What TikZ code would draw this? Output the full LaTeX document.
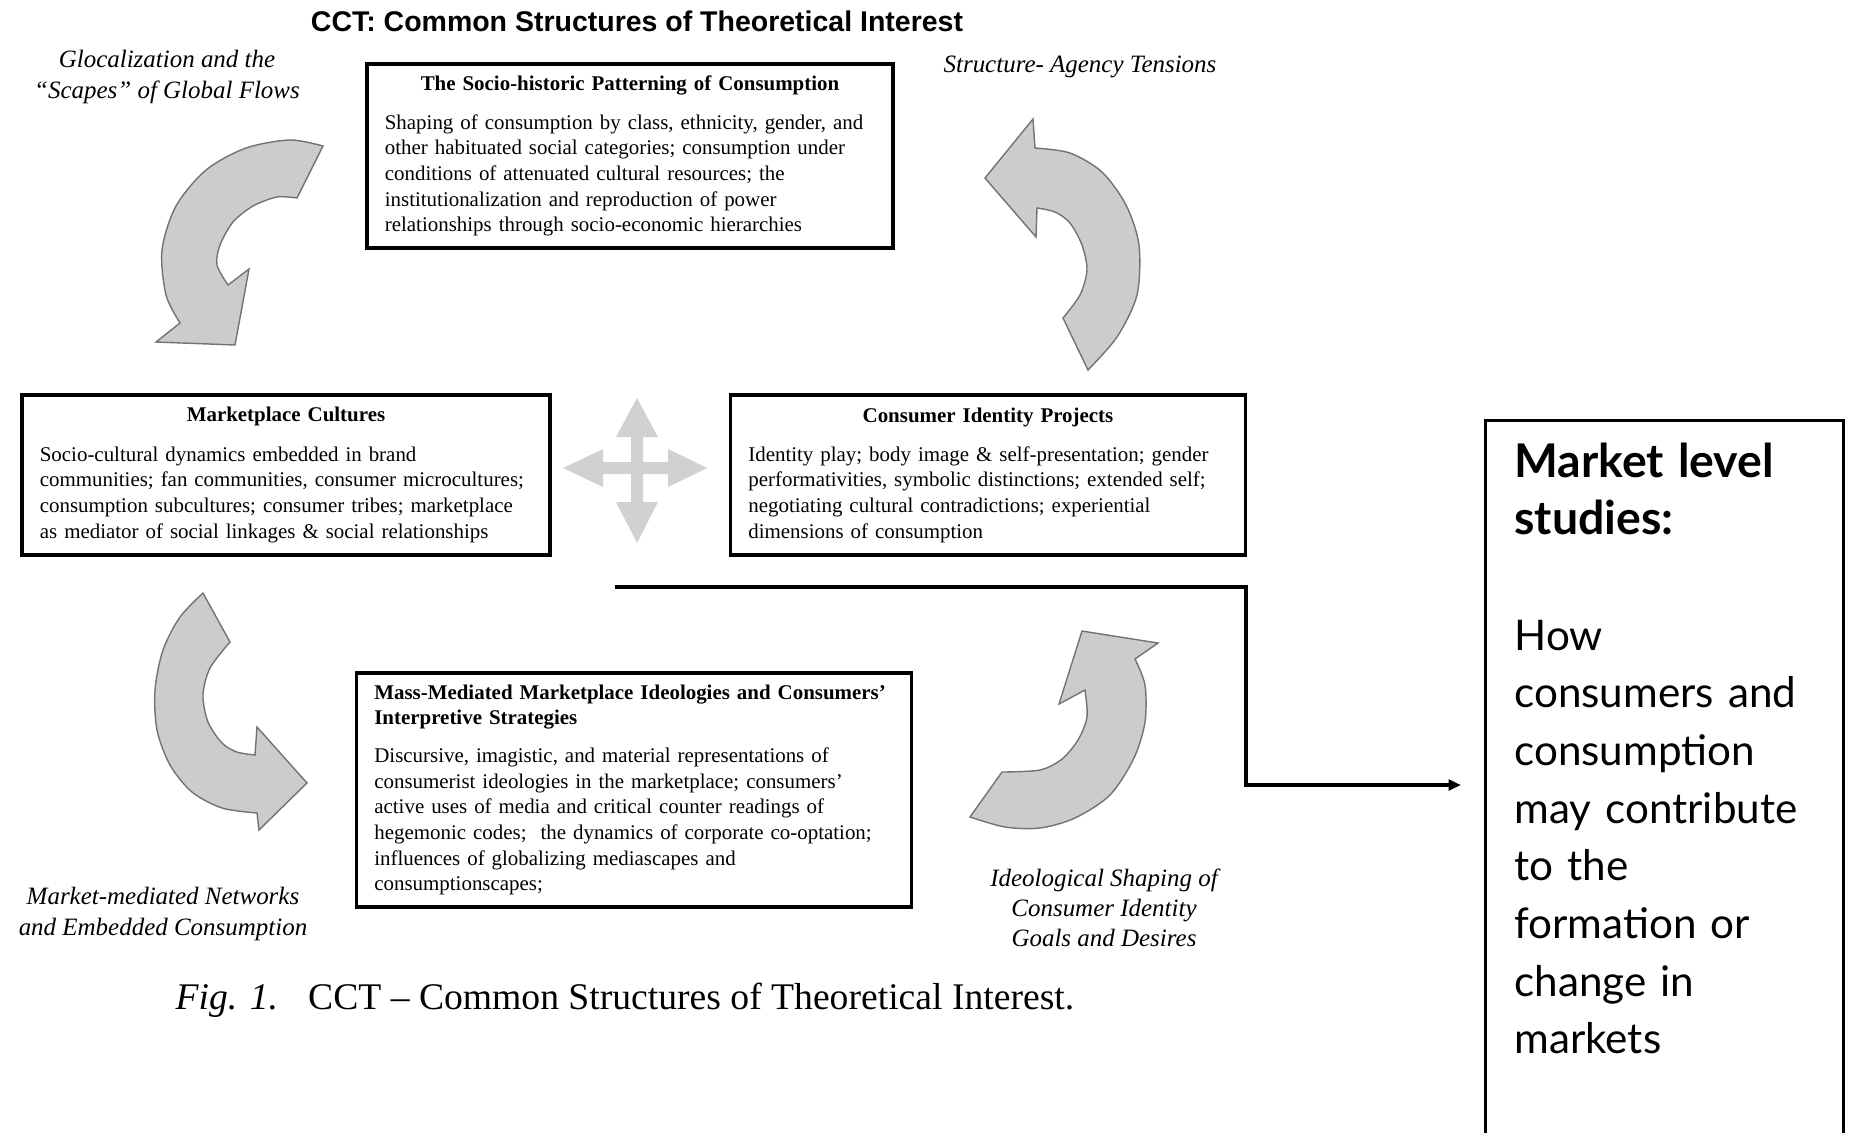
\documentclass[tikz,border=0pt]{standalone}
\usepackage{fontspec}
\setmainfont{Liberation Serif}
\newfontfamily\headfont{Liberation Sans}
\newfontfamily\slidefont{Lato}
\usetikzlibrary{arrows.meta}

\tikzset{
  cctbox/.style={draw, line width=1pt, inner xsep=4.5pt, inner ysep=2pt, align=left,
    font=\fontsize{5.95}{7.3}\selectfont},
  flowlbl/.style={align=center, font=\itshape\fontsize{7.1}{8.6}\selectfont},
  bendarrow/.style={fill=black!20, draw=black!55, line width=0.4pt},
}

\begin{document}
\begin{tikzpicture}[x=0.01cm, y=-0.01cm]
  \useasboundingbox (0,0) rectangle (1850,1132);
  \clip (0,0) rectangle (1850,1132);

  \node[font=\headfont\bfseries\fontsize{8.1}{9}\selectfont] (title) at (637,21)
    {CCT: Common Structures of Theoretical Interest};

  \begin{scope}[every node/.style={flowlbl}]
    \node (glocal)  at (167,77)   {Glocalization and the\\“Scapes” of Global Flows};
    \node (tension) at (1080,67)  {Structure- Agency Tensions};
    \node (network) at (163,914)  {Market-mediated Networks\\and Embedded Consumption};
    \node (ideol)   at (1104,908) {Ideological Shaping of\\Consumer Identity\\Goals and Desires};
  \end{scope}

  \begin{scope}[every node/.style={cctbox}]
    \node[minimum width=5.26cm, minimum height=1.84cm, text width=4.9cm] (socio) at (630,156)
      {\centerline{\bfseries The Socio-historic Patterning of Consumption}\vspace{3.8pt}
       Shaping of consumption by class, ethnicity, gender, and\\
       other habituated social categories; consumption under\\
       conditions of attenuated cultural resources; the\\
       institutionalization and reproduction of power\\
       relationships through socio-economic hierarchies};
    \node[minimum width=5.28cm, minimum height=1.6cm, text width=4.92cm] (culture) at (286,475)
      {\centerline{\bfseries Marketplace Cultures}\vspace{3.8pt}
       Socio-cultural dynamics embedded in brand\\
       communities; fan communities, consumer microcultures;\\
       consumption subcultures; consumer tribes; marketplace\\
       as mediator of social linkages \& social relationships};
    \node[minimum width=5.15cm, minimum height=1.6cm, text width=4.79cm] (identity) at (988,475)
      {\centerline{\bfseries Consumer Identity Projects}\vspace{3.8pt}
       Identity play; body image \& self-presentation; gender\\
       performativities, symbolic distinctions; extended self;\\
       negotiating cultural contradictions; experiential\\
       dimensions of consumption};
    \node[minimum width=5.55cm, minimum height=2.34cm, text width=5.19cm] (ideology) at (634,790)
      {\textbf{Mass-Mediated Marketplace Ideologies and Consumers'}\\
       \textbf{Interpretive Strategies}\\[3.4pt]
       Discursive, imagistic, and material representations of\\
       consumerist ideologies in the marketplace; consumers'\\
       active uses of media and critical counter readings of\\
       hegemonic codes;\ \ the dynamics of corporate co-optation;\\
       influences of globalizing mediascapes and\\
       consumptionscapes;};
  \end{scope}

  \node[draw, line width=0.8pt, anchor=north west, inner xsep=7.4pt, inner ysep=6.3pt,
    minimum width=3.58cm, text width=3cm, align=left, text depth=7.4cm,
    font=\slidefont\fontsize{12}{16.4}\selectfont] (market) at (1484,419)
    {{\fontsize{13.2}{16.4}\selectfont\bfseries Market level\\studies:}\\[16.4pt]How\\consumers and\\consumption\\
     may contribute\\to the\\formation or\\change in\\markets};

  \node[anchor=west, inner sep=0pt, font=\fontsize{10.7}{13}\selectfont] (caption) at (175,1000)
    {\textit{Fig. 1.}\hspace{0.8em}CCT – Common Structures of Theoretical Interest.};

  \filldraw[bendarrow] (323,146) -- (297,198)
    -- plot[smooth] coordinates {(297,198) (277,197) (253,206) (233,222) (220,245) (217,265) (228,285)}
    -- (249,269) -- (235,345) -- (156,342) -- (180,323)
    -- plot[smooth] coordinates {(180,323) (166,295) (162,250) (176,206) (206,170) (246,148) (290,140) (323,146)}
    -- cycle;
  \filldraw[bendarrow] (985,178) -- (1033,119) -- (1035,148)
    -- plot[smooth] coordinates {(1035,148) (1070,153) (1102,172) (1126,205) (1139,245) (1137,295) (1117,337) (1088,370)}
    -- (1063,318)
    -- plot[smooth] coordinates {(1063,318) (1080,295) (1087,270) (1082,245) (1070,223) (1055,212) (1037,208)}
    -- (1036,237) -- cycle;
  \filldraw[bendarrow] (203,593) -- (230,642)
    -- plot[smooth] coordinates {(230,642) (210,668) (203,695) (208,722) (222,743) (237,752) (255,755)}
    -- (257,727) -- (307,783) -- (259,830) -- (257,813)
    -- plot[smooth] coordinates {(257,813) (222,808) (192,792) (170,765) (157,730) (155,690) (163,650) (180,617) (203,593)}
    -- cycle;
  \filldraw[bendarrow] (970,817) -- (1002,772)
    -- plot[smooth] coordinates {(1002,772) (1040,770) (1062,759) (1078,740) (1087,717) (1085,690)}
    -- (1059,704) -- (1082,631) -- (1158,643) -- (1135,659)
    -- plot[smooth] coordinates {(1135,659) (1145,685) (1145,722) (1134,758) (1110,795) (1075,818) (1040,828) (1005,827) (970,817)}
    -- cycle;

  \fill[black!18] (637,398) -- (658,437) -- (643,437) -- (643,462) -- (668,462) -- (668,449)
    -- (707,468) -- (668,487) -- (668,474) -- (643,474) -- (643,502) -- (658,502)
    -- (637,543) -- (616,502) -- (631,502) -- (631,474) -- (603,474) -- (603,487)
    -- (563,468) -- (603,449) -- (603,462) -- (631,462) -- (631,437) -- (616,437) -- cycle;

  \coordinate (lstart) at (615,587);
  \coordinate (lturn) at (1246,785);
  \draw[line width=1.1pt, -{Triangle[length=3.5pt,width=3pt]}, shorten >=2.3mm]
    (lstart) -| (lturn) -- (lturn -| market.west);

\end{tikzpicture}
\end{document}
